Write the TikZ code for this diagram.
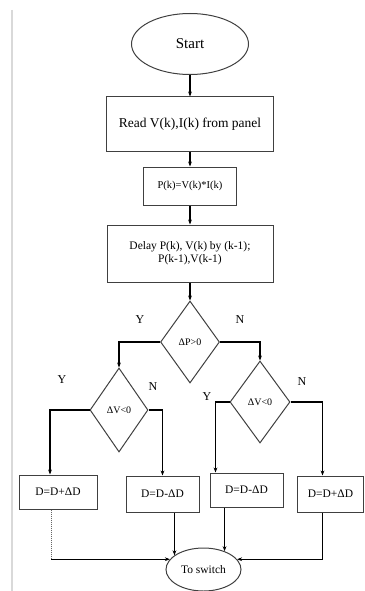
\documentclass[tikz,border=0pt]{standalone}
\usepackage{fontspec}
\setmainfont{Liberation Serif}
\usepackage{tikz}
\usetikzlibrary{shapes.geometric, arrows.meta, calc}

\begin{document}
\begin{tikzpicture}[x=1pt, y=-1pt,
          box/.style={rectangle, draw=black!75, line width=1pt, inner sep=1pt,
                      align=center, font=\fontsize{11.5}{13}\selectfont},
          oval/.style={ellipse, draw=black!75, line width=1pt, inner sep=0pt},
          test/.style={diamond, draw=black!75, line width=1pt, inner sep=0pt,
                       font=\fontsize{10}{12}\selectfont},
          yn/.style={font=\fontsize{12}{14}\selectfont},
          arr/.style={-{Stealth[length=5pt]}, line width=1.1pt}
        ]
        \useasboundingbox (0,0) rectangle (364,591);
        % page edge line
        \draw[black!15, line width=1.5pt] (12,10) -- (12,591);

        % Start
        \node[oval, minimum width=117, minimum height=61,
              font=\fontsize{15}{17}\selectfont] (start) at (190,44) {Start};

        % Read and compute
        \node[box, minimum width=167, minimum height=54,
              font=\fontsize{13.5}{15}\selectfont] (read) at (190,124)
              {Read V(k),I(k) from panel};
        \node[box, minimum width=93, minimum height=38,
              font=\fontsize{10.5}{12}\selectfont] (pk) at (190,186)
              {P(k)=V(k)*I(k)};
        \node[box, minimum width=166, minimum height=57] (delay) at (190,253.5)
              {Delay P(k), V(k) by (k-1);\\P(k-1),V(k-1)};
        \draw[arr] (start) -- (read);
        \draw[arr] (read) -- (pk);
        \draw[arr] (pk) -- (delay);

        % Tests
        \node[test, minimum width=59, minimum height=82] (dP) at (190,342) {ΔP>0};
        \node[test, minimum width=58, minimum height=84] (dvl) at (119,410) {ΔV<0};
        \node[test, minimum width=60, minimum height=82] (dvr) at (260,402) {ΔV<0};
        \draw[arr] (delay) -- (dP);
        \draw[arr] (dP.west) -| (dvl.north);
        \draw[arr] (dP.east) -| (dvr.north);
        \node[yn] (yP) at (140,320) {Y};
        \node[yn] (nP) at (240,320) {N};
        \node[yn] (yl) at (62,380) {Y};
        \node[yn] (nl) at (153,387) {N};
        \node[yn] (yr) at (207,397) {Y};
        \node[yn] (nr) at (302,382) {N};

        % Duty updates
        \node[box, minimum width=78, minimum height=34] (inc1) at (58,492) {D=D+ΔD};
        \node[box, minimum width=73, minimum height=36] (dec1) at (162.5,494) {D=D-ΔD};
        \node[box, minimum width=73, minimum height=34] (dec2) at (246.5,490) {D=D-ΔD};
        \node[box, minimum width=66, minimum height=36] (inc2) at (330.5,494) {D=D+ΔD};
        \draw[arr] (dvl.west) -| ([xshift=-8pt]inc1.north);
        \draw[arr] (dvl.east) -| (dec1.north);
        \draw[arr] (dvr.west) -| ([xshift=6pt]dec2.north west);
        \draw[arr] (dvr.east) -| ([xshift=-8pt]inc2.north);

        % To switch
        \node[oval, minimum width=75, minimum height=43,
              font=\fontsize{11.5}{13}\selectfont] (sw) at (203.5,569.5) {To switch};
        \coordinate (incout) at ([xshift=-7pt]inc1.south);
        \coordinate (incturn) at (sw.163 -| incout);
        \draw[black!60, line width=1pt, densely dotted] (incout) -- (incturn);
        \draw[arr] (incturn) -- (sw.163);
        \draw[arr] (dec1.south -| sw.154) -- (sw.154);
        \draw[arr] (dec2.south -| sw.41) -- (sw.41);
        \draw[arr] ([xshift=-8pt]inc2.south) |- (sw.17);
      \end{tikzpicture}
\end{document}
